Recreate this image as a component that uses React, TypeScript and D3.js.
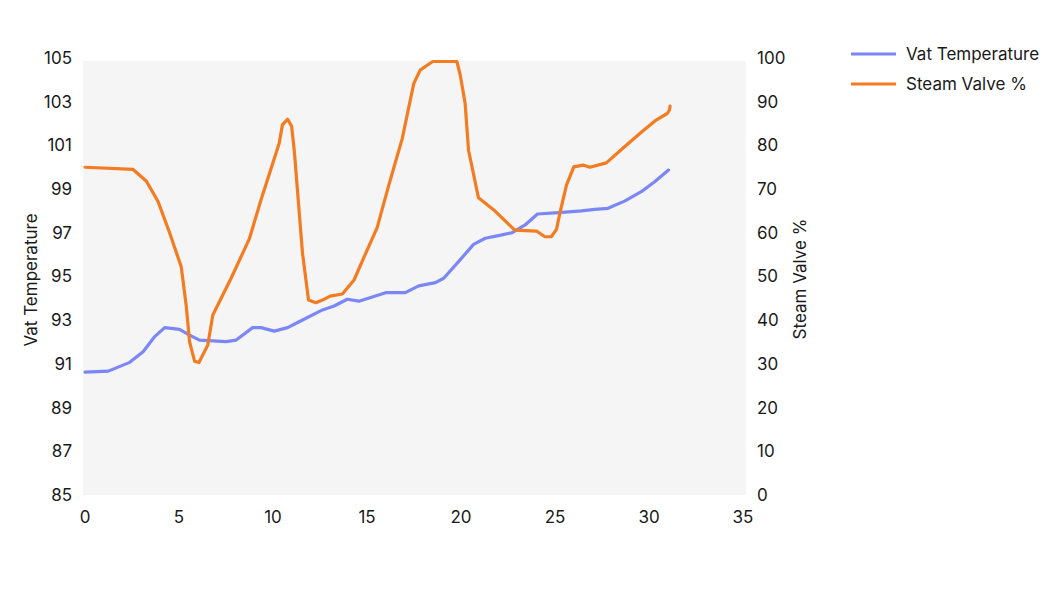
import * as d3 from 'd3';
import React, { useEffect, useRef } from 'react';

// Vat temperature (left axis)
const vatTime = [
  0, 1.24, 2.38, 3.09, 3.71, 4.24, 5.03, 5.56, 6.09, 7.51, 8.04, 8.92, 9.36, 10.07, 10.78, 11.39,
  12.63, 13.25, 13.95, 14.57, 15.28, 15.99, 17.04, 17.75, 18.64, 19.08, 19.87, 20.67, 21.29, 21.99,
  22.7, 23.41, 24.07, 25.2, 26.41, 27.12, 27.82, 28.7, 29.59, 30.3, 31.04,
];
const vatTemp = [
  90.62, 90.67, 91.07, 91.56, 92.25, 92.66, 92.58, 92.32, 92.09, 92.02, 92.09, 92.66, 92.66, 92.5,
  92.66, 92.93, 93.47, 93.65, 93.96, 93.87, 94.06, 94.26, 94.26, 94.57, 94.72, 94.92, 95.68, 96.47,
  96.75, 96.87, 97.0, 97.36, 97.86, 97.92, 98.0, 98.07, 98.12, 98.45, 98.88, 99.34, 99.87,
];

// Steam valve % (right axis)
const valveTime = [
  0, 2.56, 3.27, 3.89, 4.5, 5.12, 5.39, 5.56, 5.83, 6.06, 6.53, 6.8, 7.77, 8.74, 9.36, 10.33, 10.5,
  10.78, 10.99, 11.13, 11.57, 11.89, 12.28, 12.63, 13.04, 13.69, 14.31, 14.93, 15.54, 16.16, 16.87,
  17.49, 17.84, 18.5, 19.78, 19.96, 20.22, 20.4, 20.93, 21.73, 22.86, 24.02, 24.46, 24.8, 25.08,
  25.26, 25.61, 26.0, 26.5, 26.85, 27.73, 28.7, 29.59, 30.38, 30.97, 31.09, 31.12,
];
const valvePct = [
  75.0, 74.5, 71.8, 67.1, 60.0, 52.2, 43.1, 35.1, 30.6, 30.3, 34.3, 41.2, 49.6, 58.6, 67.5, 80.5,
  84.7, 86.0, 84.4, 78.9, 55.3, 44.6, 44.0, 44.6, 45.5, 46.0, 49.2, 55.3, 61.2, 70.9, 81.5, 94.2,
  97.3, 99.2, 99.2, 96.1, 89.6, 78.9, 68.0, 65.3, 60.6, 60.4, 59.1, 59.1, 60.8, 64.5, 70.9, 75.1,
  75.5, 75.0, 76.0, 79.7, 83.0, 85.8, 87.3, 88.1, 89.0,
];

const xTicks = [0, 5, 10, 15, 20, 25, 30, 35];
const leftTicks = [85, 87, 89, 91, 93, 95, 97, 99, 101, 103, 105];
const rightTicks = [0, 10, 20, 30, 40, 50, 60, 70, 80, 90, 100];

const seriesNames = ['Vat Temperature', 'Steam Valve %'];
const colors = ['#7b87f7', '#f47b20'];

const App: React.FC = () => {
  const svgRef = useRef<SVGSVGElement>(null);

  useEffect(() => {
    document.body.style.margin = '0';
    const W = 1059;
    const H = 606;
    const plot = { left: 83, right: 746, top: 58, bottom: 495 };
    const font = 'Inter, "Noto Sans", sans-serif';
    const fs = 17;

    const svg = d3.select(svgRef.current);
    svg.selectAll('*').remove();
    svg.attr('width', W).attr('height', H);

    const x = d3.scaleLinear().domain([0, 35]).range([85, 743]);
    const yL = d3.scaleLinear().domain([85, 105]).range([plot.bottom, plot.top]);
    const yR = d3.scaleLinear().domain([0, 100]).range([plot.bottom, plot.top]);

    svg
      .append('rect')
      .attr('x', plot.left)
      .attr('y', 61)
      .attr('width', plot.right - plot.left)
      .attr('height', plot.bottom - 61)
      .attr('fill', '#f5f5f5');

    // left axis labels
    svg
      .append('g')
      .selectAll('text')
      .data(leftTicks)
      .enter()
      .append('text')
      .attr('x', 72)
      .attr('y', (d) => yL(d))
      .attr('dy', '0.35em')
      .attr('text-anchor', 'end')
      .attr('font-family', font)
      .attr('font-size', fs)
      .attr('fill', '#1a1a1a')
      .text((d) => d);

    // right axis labels
    svg
      .append('g')
      .selectAll('text')
      .data(rightTicks)
      .enter()
      .append('text')
      .attr('x', 757)
      .attr('y', (d) => yR(d))
      .attr('dy', '0.35em')
      .attr('text-anchor', 'start')
      .attr('font-family', font)
      .attr('font-size', fs)
      .attr('fill', '#1a1a1a')
      .text((d) => d);

    // x axis labels
    svg
      .append('g')
      .selectAll('text')
      .data(xTicks)
      .enter()
      .append('text')
      .attr('x', (d) => x(d))
      .attr('y', 517)
      .attr('dy', '0.35em')
      .attr('text-anchor', 'middle')
      .attr('font-family', font)
      .attr('font-size', fs)
      .attr('fill', '#1a1a1a')
      .text((d) => d);

    // axis titles
    svg
      .append('text')
      .attr('transform', `translate(31,280) rotate(-90)`)
      .attr('dy', '0.35em')
      .attr('text-anchor', 'middle')
      .attr('font-family', font)
      .attr('font-size', fs)
      .attr('fill', '#1a1a1a')
      .text(seriesNames[0]);

    svg
      .append('text')
      .attr('transform', `translate(800,279) rotate(-90)`)
      .attr('dy', '0.35em')
      .attr('text-anchor', 'middle')
      .attr('font-family', font)
      .attr('font-size', fs)
      .attr('fill', '#1a1a1a')
      .text(seriesNames[1]);

    // lines
    const vatLine = d3
      .line<number>()
      .x((_, i) => x(vatTime[i]))
      .y((d) => yL(d));

    const valveLine = d3
      .line<number>()
      .x((_, i) => x(valveTime[i]))
      .y((d) => yR(d));

    svg
      .append('path')
      .datum(vatTemp)
      .attr('fill', 'none')
      .attr('stroke', colors[0])
      .attr('stroke-width', 3.2)
      .attr('stroke-linejoin', 'round')
      .attr('stroke-linecap', 'round')
      .attr('d', vatLine);

    svg
      .append('path')
      .datum(valvePct)
      .attr('fill', 'none')
      .attr('stroke', colors[1])
      .attr('stroke-width', 3.2)
      .attr('stroke-linejoin', 'round')
      .attr('stroke-linecap', 'round')
      .attr('d', valveLine);

    // legend
    const legend = svg
      .append('g')
      .selectAll('g')
      .data(seriesNames)
      .enter()
      .append('g')
      .attr('transform', (_, i) => `translate(851,${54 + i * 30})`);

    legend
      .append('line')
      .attr('x1', 0)
      .attr('x2', 45)
      .attr('stroke', (_, i) => colors[i])
      .attr('stroke-width', 3);

    legend
      .append('text')
      .attr('x', 55)
      .attr('dy', '0.35em')
      .attr('font-family', font)
      .attr('font-size', fs)
      .attr('fill', '#1a1a1a')
      .text((d) => d);
  }, []);

  return <svg ref={svgRef} style={{ display: 'block' }} />;
};

export default App;
